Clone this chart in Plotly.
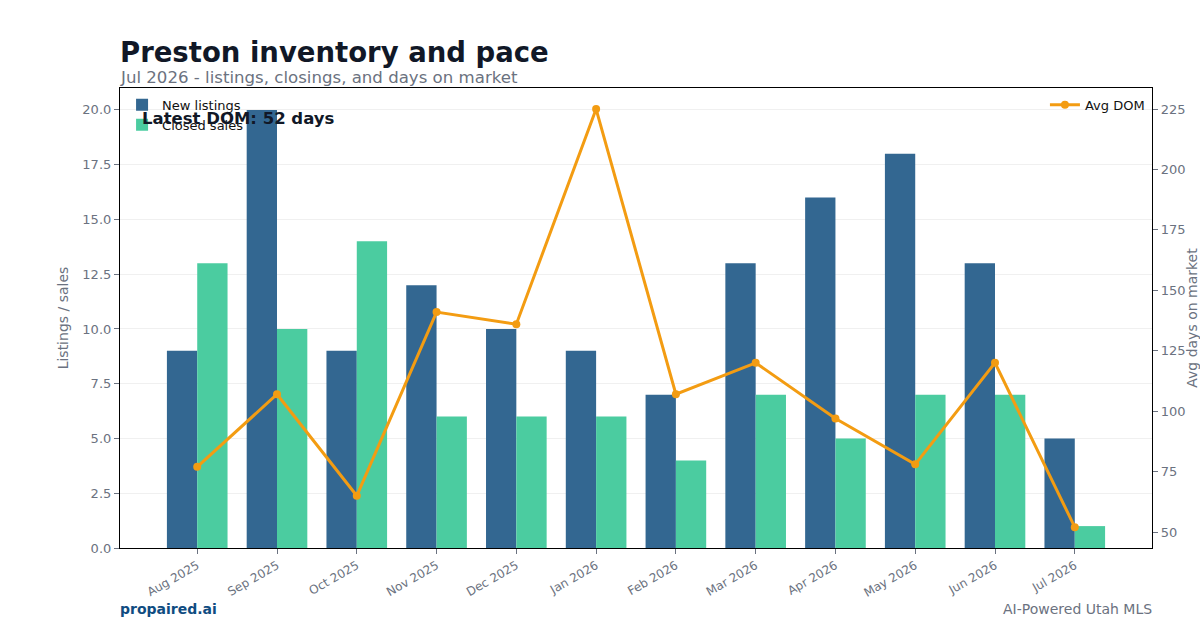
import plotly.graph_objects as go

months = ["Aug 2025", "Sep 2025", "Oct 2025", "Nov 2025", "Dec 2025", "Jan 2026",
          "Feb 2026", "Mar 2026", "Apr 2026", "May 2026", "Jun 2026", "Jul 2026"]
new_listings = [9, 20, 9, 12, 10, 9, 7, 13, 16, 18, 13, 5]
closed_sales = [13, 10, 14, 6, 6, 6, 4, 7, 5, 7, 7, 1]
avg_dom = [77, 107, 65, 141, 136, 225, 107, 120, 97, 78, 120, 52]

idx = list(range(len(months)))
FONT = "DejaVu Sans"
GRAY = "#6b7280"

fig = go.Figure()
fig.add_trace(go.Bar(x=idx, y=new_listings, name="New listings", marker_color="#336791",
                     marker_line_width=0, legend="legend"))
fig.add_trace(go.Bar(x=idx, y=closed_sales, name="Closed sales", marker_color="#4bcca0",
                     marker_line_width=0, legend="legend"))
fig.add_trace(go.Scatter(x=idx, y=avg_dom, name="Avg DOM", mode="lines+markers",
                         line=dict(color="#f39c12", width=3), marker=dict(size=8, color="#f39c12"),
                         yaxis="y2", legend="legend2"))

fig.update_layout(
    width=1200, height=630,
    margin=dict(l=120, r=48, t=88, b=82),
    paper_bgcolor="white", plot_bgcolor="white",
    font=dict(family=FONT, color=GRAY, size=12),
    barmode="group", bargap=0.24, bargroupgap=0,
    showlegend=True,
    legend=dict(x=0.002, y=0.996, xanchor="left", yanchor="top", bgcolor="rgba(255,255,255,0)",
                font=dict(size=13, color="#111111"), tracegroupgap=0),
    legend2=dict(x=0.998, y=0.996, xanchor="right", yanchor="top", bgcolor="rgba(255,255,255,0)",
                 font=dict(size=13, color="#111111")),
    xaxis=dict(range=[-0.968, 11.968], tickvals=idx, ticktext=months, tickangle=-30,
               showgrid=False, zeroline=False, showline=True, linecolor="black", linewidth=1.2,
               mirror=True, ticks="outside", ticklen=5, tickcolor=GRAY, automargin=False,
               tickfont=dict(size=12, color=GRAY)),
    yaxis=dict(range=[0, 21], tickvals=[0, 2.5, 5, 7.5, 10, 12.5, 15, 17.5, 20], tickformat=".1f",
               showgrid=True, gridcolor="#f0f0f0", gridwidth=1, zeroline=False,
               showline=True, linecolor="black", linewidth=1.2, automargin=False,
               ticks="outside", ticklen=5, tickcolor=GRAY, tickfont=dict(size=13, color=GRAY),
               title=dict(text="Listings / sales", font=dict(size=14, color=GRAY), standoff=10)),
    yaxis2=dict(range=[43.4, 233.7], overlaying="y", side="right",
                tickvals=[50, 75, 100, 125, 150, 175, 200, 225], automargin=False,
                showgrid=False, zeroline=False, showline=True, linecolor="black", linewidth=1.2,
                ticks="outside", ticklen=5, tickcolor=GRAY, tickfont=dict(size=13, color=GRAY),
                title=dict(text="Avg days on market", font=dict(size=14, color=GRAY), standoff=14)),
)

fig.add_annotation(text="<b>Preston inventory and pace</b>", xref="paper", yref="paper",
                   x=0, y=1, yshift=36, xshift=-2, xanchor="left", yanchor="middle", showarrow=False,
                   font=dict(size=27.5, color="#111827", family=FONT))
fig.add_annotation(text="Jul 2026 - listings, closings, and days on market", xref="paper", yref="paper",
                   x=0, y=1, yshift=11, xshift=-2, xanchor="left", yanchor="middle", showarrow=False,
                   font=dict(size=16.6, color=GRAY, family=FONT))
fig.add_annotation(text="<b>Latest DOM: 52 days</b>", xref="paper", yref="paper",
                   x=0.02, y=0.933, xshift=-1, xanchor="left", yanchor="middle", showarrow=False,
                   font=dict(size=16.5, color="#111827", family=FONT))
fig.add_annotation(text="<b>propaired.ai</b>", xref="paper", yref="paper",
                   x=0, y=0, yshift=-61, xshift=-2, xanchor="left", yanchor="middle", showarrow=False,
                   font=dict(size=14, color="#0f4c81", family=FONT))
fig.add_annotation(text="AI-Powered Utah MLS", xref="paper", yref="paper",
                   x=1, y=0, yshift=-61, xshift=2, xanchor="right", yanchor="middle", showarrow=False,
                   font=dict(size=14, color=GRAY, family=FONT))

fig.write_html("out.html")
